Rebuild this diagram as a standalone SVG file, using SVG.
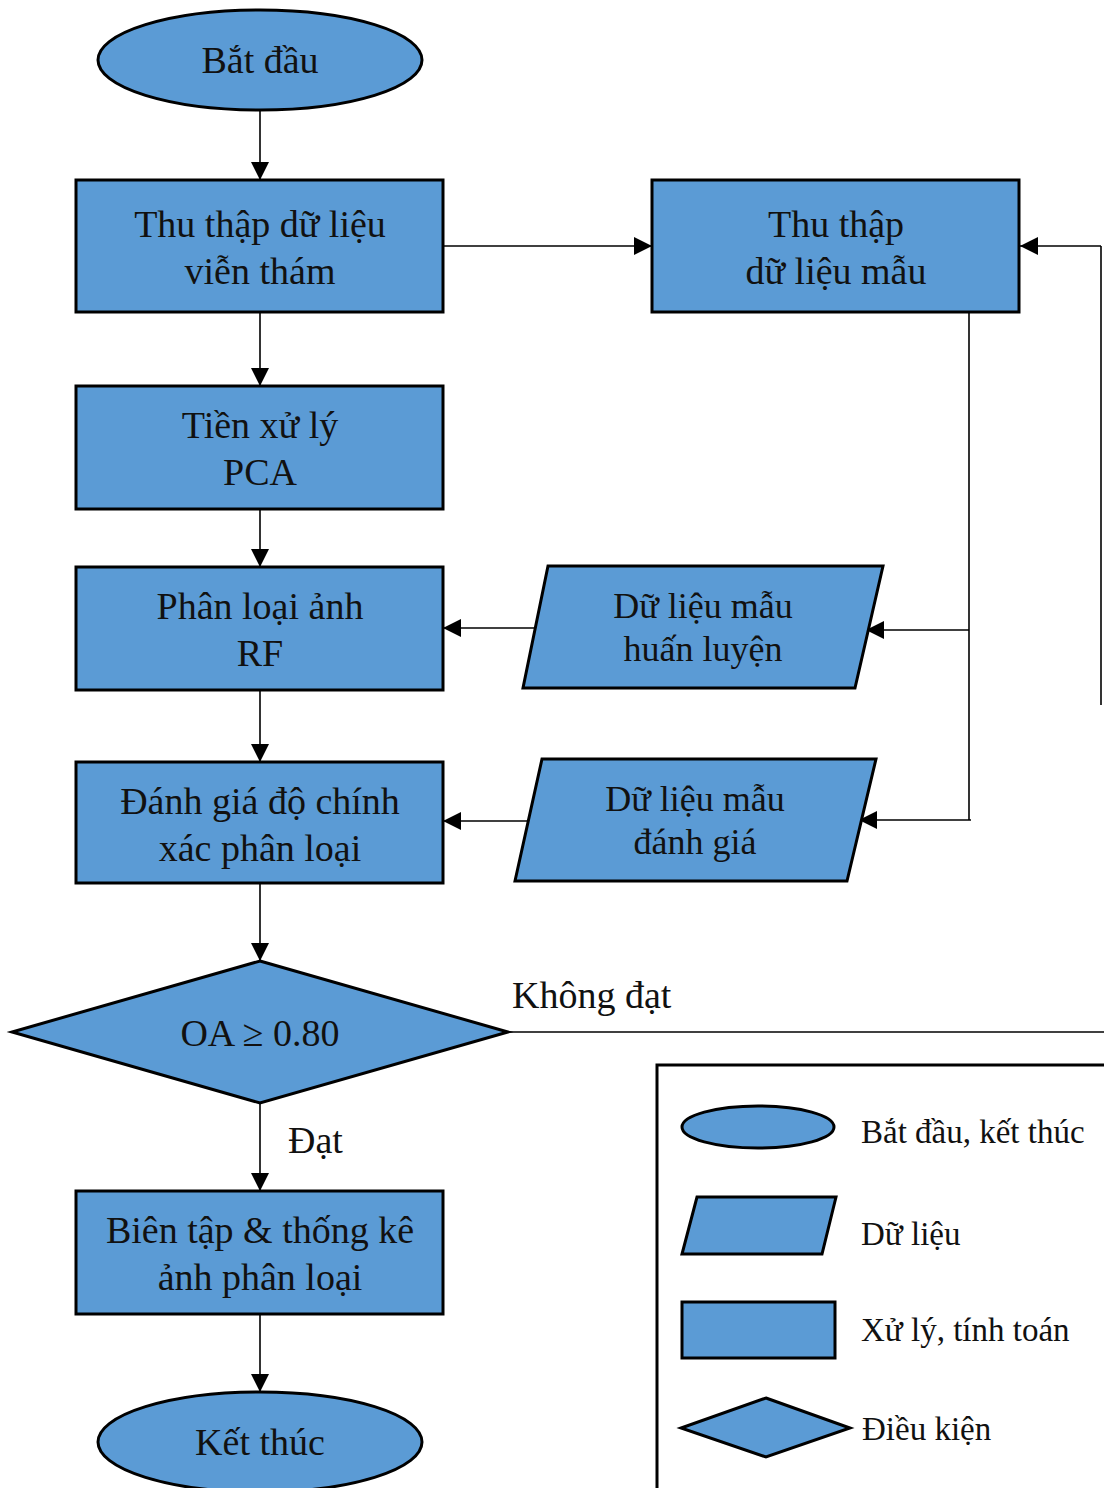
<svg xmlns="http://www.w3.org/2000/svg" width="1104" height="1488" viewBox="0 0 1104 1488">
<defs>
<marker id="ah" viewBox="0 0 10 10" refX="10" refY="5" markerWidth="18" markerHeight="18" markerUnits="userSpaceOnUse" orient="auto">
<path d="M0,0 L10,5 L0,10 z" fill="#000"/>
</marker>
</defs>
<style>
.s{fill:#5b9bd5;stroke:#000;stroke-width:3}
.t{font-family:"Liberation Serif","Times New Roman",serif;font-size:38px;fill:#111;text-anchor:middle}
.p{font-size:36px}
.l{font-family:"Liberation Serif","Times New Roman",serif;font-size:33px;fill:#111}
.c{fill:none;stroke:#000;stroke-width:1.6}
.ca{fill:none;stroke:#000;stroke-width:1.6;marker-end:url(#ah)}
</style>
<rect width="1104" height="1488" fill="#fff"/>
<g id="connectors">
<path class="ca" d="M260,111 V180"/>
<path class="ca" d="M443,246 H652"/>
<path class="ca" d="M260,313 V386"/>
<path class="ca" d="M260,510 V567"/>
<path class="ca" d="M260,691 V762"/>
<path class="ca" d="M260,884 V961"/>
<path class="ca" d="M260,1104 V1191"/>
<path class="ca" d="M260,1315 V1392"/>
<path class="c" d="M969,313 V820"/>
<path class="ca" d="M969,630 H866"/>
<path class="ca" d="M971,820 H859"/>
<path class="ca" d="M538,628 H443"/>
<path class="ca" d="M530,821 H443"/>
<path class="c" d="M508,1032 H1104"/>
<path class="c" d="M1101,705 V246"/>
<path class="ca" d="M1101,246 H1020"/>
</g>
<g id="start"><ellipse class="s" cx="260" cy="60" rx="162" ry="50"/><text class="t" x="260" y="73">Bắt đầu</text></g>
<g id="thu-thap-vien-tham"><rect class="s" x="76" y="180" width="367" height="132"/><text class="t" x="260" y="237">Thu thập dữ liệu</text><text class="t" x="260" y="284">viễn thám</text></g>
<g id="thu-thap-mau"><rect class="s" x="652" y="180" width="367" height="132"/><text class="t" x="836" y="237">Thu thập</text><text class="t" x="836" y="284">dữ liệu mẫu</text></g>
<g id="tien-xu-ly"><rect class="s" x="76" y="386" width="367" height="123"/><text class="t" x="260" y="438">Tiền xử lý</text><text class="t" x="260" y="485">PCA</text></g>
<g id="phan-loai"><rect class="s" x="76" y="567" width="367" height="123"/><text class="t" x="260" y="619">Phân loại ảnh</text><text class="t" x="260" y="666">RF</text></g>
<g id="danh-gia"><rect class="s" x="76" y="762" width="367" height="121"/><text class="t" x="260" y="814">Đánh giá độ chính</text><text class="t" x="260" y="861">xác phân loại</text></g>
<g id="mau-huan-luyen"><polygon class="s" points="548,566 883,566 855,688 523,688"/><text class="t p" x="703" y="618">Dữ liệu mẫu</text><text class="t p" x="703" y="661">huấn luyện</text></g>
<g id="mau-danh-gia"><polygon class="s" points="542,759 876,759 847,881 515,881"/><text class="t p" x="695" y="811">Dữ liệu mẫu</text><text class="t p" x="695" y="854">đánh giá</text></g>
<g id="dieu-kien"><polygon class="s" points="260,961 508,1032 260,1103 12,1032"/><text class="t" x="260" y="1046">OA ≥ 0.80</text></g>
<g id="labels"><text class="l" x="512" y="1008" style="font-size:38px">Không đạt</text><text class="l" x="288" y="1153" style="font-size:38px">Đạt</text></g>
<g id="bien-tap"><rect class="s" x="76" y="1191" width="367" height="123"/><text class="t" x="260" y="1243">Biên tập &amp; thống kê</text><text class="t" x="260" y="1290">ảnh phân loại</text></g>
<g id="end"><ellipse class="s" cx="260" cy="1442" rx="162" ry="50"/><text class="t" x="260" y="1455">Kết thúc</text></g>
<g id="legend">
<path d="M657,1488 V1065 H1104" fill="none" stroke="#000" stroke-width="3"/>
<ellipse class="s" cx="758" cy="1127" rx="76" ry="21"/>
<text class="l" x="861" y="1143">Bắt đầu, kết thúc</text>
<polygon class="s" points="697,1197 836,1197 822,1254 682,1254"/>
<text class="l" x="861" y="1245">Dữ liệu</text>
<rect class="s" x="682" y="1302" width="153" height="56"/>
<text class="l" x="861" y="1341">Xử lý, tính toán</text>
<polygon class="s" points="766,1398 850,1428 766,1457 681,1428"/>
<text class="l" x="862" y="1440">Điều kiện</text>
</g>
</svg>
